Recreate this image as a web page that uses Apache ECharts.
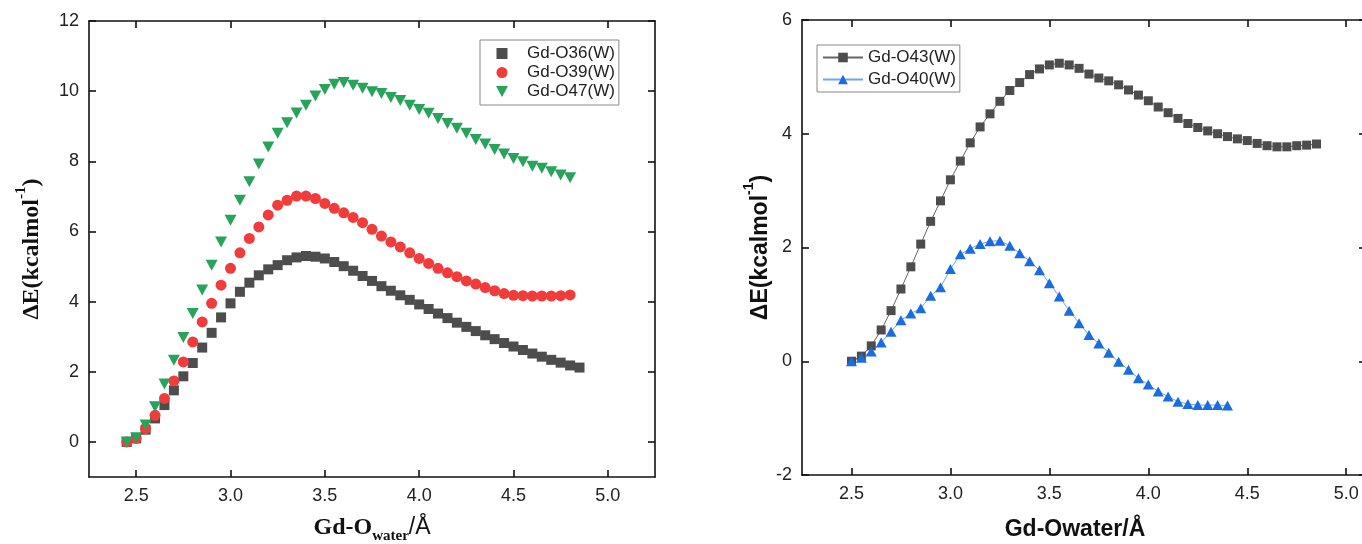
<!DOCTYPE html>
<html>
<head>
<meta charset="utf-8">
<script src="https://cdn.jsdelivr.net/npm/echarts@6/dist/echarts.min.js"></script>
<style>
html,body{margin:0;padding:0;background:#fff}
#main{width:1362px;height:544px}
</style>
</head>
<body>
<div id="main"></div>
<script>
// 左图：Gd-O 距离 (Å)
var distL = [2.45, 2.50, 2.55, 2.60, 2.65, 2.70, 2.75, 2.80, 2.85, 2.90, 2.95, 3.00, 3.05, 3.10, 3.15, 3.20, 3.25,
             3.30, 3.35, 3.40, 3.45, 3.50, 3.55, 3.60, 3.65, 3.70, 3.75, 3.80, 3.85, 3.90, 3.95, 4.00, 4.05,
             4.10, 4.15, 4.20, 4.25, 4.30, 4.35, 4.40, 4.45, 4.50, 4.55, 4.60, 4.65, 4.70, 4.75, 4.80, 4.85];
var e36 = [0, 0.10, 0.35, 0.67, 1.05, 1.47, 1.87, 2.25, 2.69, 3.11, 3.55, 3.95, 4.28, 4.54, 4.75, 4.92, 5.04,
           5.18, 5.26, 5.30, 5.28, 5.23, 5.13, 5.01, 4.88, 4.73, 4.59, 4.44, 4.31, 4.18, 4.05, 3.92, 3.79,
           3.66, 3.53, 3.40, 3.28, 3.16, 3.04, 2.93, 2.82, 2.72, 2.62, 2.52, 2.43, 2.34, 2.26, 2.18, 2.12];
var e39 = [0, 0.10, 0.38, 0.76, 1.24, 1.74, 2.28, 2.85, 3.42, 3.95, 4.47, 4.95, 5.39, 5.80, 6.13, 6.47, 6.75,
           6.89, 7.01, 7.01, 6.94, 6.80, 6.66, 6.53, 6.40, 6.25, 6.06, 5.87, 5.70, 5.56, 5.39, 5.23, 5.09,
           4.95, 4.82, 4.71, 4.59, 4.50, 4.40, 4.31, 4.23, 4.18, 4.17, 4.16, 4.16, 4.16, 4.17, 4.19];
var e47 = [0, 0.12, 0.48, 1.00, 1.65, 2.33, 2.98, 3.66, 4.33, 5.04, 5.70, 6.32, 6.89, 7.42, 7.92, 8.41, 8.80,
           9.10, 9.38, 9.60, 9.86, 10.05, 10.20, 10.25, 10.17, 10.08, 9.98, 9.93, 9.82, 9.73, 9.60, 9.48, 9.37,
           9.22, 9.08, 8.94, 8.80, 8.62, 8.49, 8.34, 8.21, 8.08, 7.99, 7.86, 7.80, 7.70, 7.61, 7.53];

// 右图
var distR = [2.50, 2.55, 2.60, 2.65, 2.70, 2.75, 2.80, 2.85, 2.90, 2.95, 3.00, 3.05, 3.10, 3.15, 3.20, 3.25,
             3.30, 3.35, 3.40, 3.45, 3.50, 3.55, 3.60, 3.65, 3.70, 3.75, 3.80, 3.85, 3.90, 3.95, 4.00, 4.05,
             4.10, 4.15, 4.20, 4.25, 4.30, 4.35, 4.40, 4.45, 4.50, 4.55, 4.60, 4.65, 4.70, 4.75, 4.80, 4.85];
var e43 = [0, 0.09, 0.27, 0.55, 0.89, 1.27, 1.66, 2.06, 2.46, 2.82, 3.19, 3.52, 3.84, 4.12, 4.35, 4.57,
           4.76, 4.90, 5.04, 5.14, 5.21, 5.24, 5.21, 5.15, 5.05, 4.98, 4.93, 4.86, 4.77, 4.68, 4.58, 4.47,
           4.37, 4.27, 4.18, 4.11, 4.05, 4.00, 3.95, 3.91, 3.88, 3.83, 3.79, 3.77, 3.77, 3.79, 3.80, 3.82];
var e40 = [0, 0.06, 0.17, 0.33, 0.52, 0.72, 0.84, 0.93, 1.15, 1.30, 1.62, 1.88, 1.98, 2.06, 2.11, 2.12,
           2.03, 1.90, 1.76, 1.60, 1.37, 1.14, 0.89, 0.67, 0.46, 0.31, 0.15, -0.01, -0.15, -0.30, -0.41, -0.53,
           -0.62, -0.71, -0.75, -0.77, -0.77, -0.77, -0.78];

var xTicks = [2.5, 3.0, 3.5, 4.0, 4.5, 5.0];
var yTicksL = [0, 2, 4, 6, 8, 10, 12];
var yTicksR = [-2, 0, 2, 4, 6];

function pairs(xs, ys) {
    var out = [];
    for (var i = 0; i < ys.length; i++) out.push([xs[i], ys[i]]);
    return out;
}

var myChart = echarts.init(document.getElementById('main'));

var sans = 'Liberation Sans, Arial, sans-serif';
var serif = 'Liberation Serif, Times New Roman, serif';

function xAx(grid, min, max, pos, label, name, nameStyle, gap) {
    return {
        type: 'value', gridIndex: grid, min: min, max: max, position: pos,
        axisLine: {onZero: false, lineStyle: {color: '#111', width: 1.6}},
        axisTick: {inside: true, length: 7, customValues: xTicks, lineStyle: {color: '#111', width: 1.6}},
        axisLabel: {show: label, customValues: xTicks, margin: 10, fontSize: 18, color: '#222', fontFamily: sans,
                    formatter: function (v) { return v.toFixed(1); }},
        splitLine: {show: false},
        name: name || '', nameLocation: 'middle', nameGap: gap || 42, nameTextStyle: nameStyle || {}
    };
}
function yAx(grid, min, max, pos, ticks, label, name, nameStyle, gap) {
    return {
        type: 'value', gridIndex: grid, min: min, max: max, position: pos,
        axisLine: {onZero: false, lineStyle: {color: '#111', width: 1.6}},
        axisTick: {inside: true, length: 7, customValues: ticks, lineStyle: {color: '#111', width: 1.6}},
        axisLabel: {show: label, customValues: ticks, margin: 10, fontSize: 18, color: '#222', fontFamily: sans},
        splitLine: {show: false},
        name: name || '', nameLocation: 'middle', nameRotate: 90, nameGap: gap || 40, nameTextStyle: nameStyle || {}
    };
}

option = {
    backgroundColor: '#FFFFFF',
    animation: false,
    grid: [
        {left: 89, top: 21, width: 566, height: 456, outerBoundsMode: 'none'},
        {left: 802, top: 20, width: 564, height: 455, outerBoundsMode: 'none'}
    ],
    legend: [
        {
            orient: 'vertical', left: 480, top: 40, selectedMode: false,
            data: [
                {name: 'Gd-O36(W)', icon: 'path://M0,0H10V10H0Z'},
                {name: 'Gd-O39(W)', icon: 'circle'},
                {name: 'Gd-O47(W)', icon: 'path://M0,0H12L6,11Z'}
            ],
            borderColor: '#888', borderWidth: 1, padding: [5, 4, 5, 16],
            itemWidth: 40, itemHeight: 11, itemGap: 2,
            textStyle: {fontSize: 17, color: '#222', fontFamily: sans}
        },
        {
            orient: 'vertical', left: 817, top: 45, selectedMode: false,
            data: ['Gd-O43(W)', 'Gd-O40(W)'],
            borderColor: '#888', borderWidth: 1, padding: [4, 4, 4, 5],
            itemWidth: 40, itemHeight: 12, itemGap: 5,
            textStyle: {fontSize: 17, color: '#222', fontFamily: sans}
        }
    ],
    xAxis: [
        xAx(0, 2.25, 5.25, 'bottom', true, '{a|Gd-O}{b|water}{c|/Å}', {
            rich: {
                a: {fontSize: 24, fontWeight: 'bold', fontFamily: serif, color: '#111', lineHeight: 28, verticalAlign: 'top'},
                b: {fontSize: 15, fontWeight: 'bold', fontFamily: serif, color: '#111', verticalAlign: 'bottom'},
                c: {fontSize: 23, fontFamily: sans, color: '#111', lineHeight: 28, verticalAlign: 'top'}
            }
        }, 39),
        xAx(0, 2.25, 5.25, 'top', false),
        xAx(1, 2.25, 5.1, 'bottom', true, 'Gd-Owater/Å', {
            fontSize: 23, fontWeight: 'bold', fontFamily: sans, color: '#111', padding: [0, 18, 0, 0]
        }, 43),
        xAx(1, 2.25, 5.1, 'top', false)
    ],
    yAxis: [
        yAx(0, -1, 12, 'left', yTicksL, true, '{a|ΔE(kcalmol}{s|-1}{a|)}', {
            rich: {
                a: {fontSize: 24, fontWeight: 'bold', fontFamily: serif, color: '#111', lineHeight: 30, verticalAlign: 'bottom'},
                s: {fontSize: 15, fontWeight: 'bold', fontFamily: serif, color: '#111', verticalAlign: 'top'}
            }
        }, 45),
        yAx(0, -1, 12, 'right', yTicksL, false),
        yAx(1, -2, 6, 'left', yTicksR, true, '{a|ΔE(kcalmol}{s|-1}{a|)}', {
            rich: {
                a: {fontSize: 23, fontWeight: 'bold', fontFamily: sans, color: '#111', lineHeight: 30, verticalAlign: 'bottom'},
                s: {fontSize: 14, fontWeight: 'bold', fontFamily: sans, color: '#111', verticalAlign: 'top'}
            }
        }, 24),
        yAx(1, -2, 6, 'right', yTicksR, false)
    ],
    series: [
        {
            name: 'Gd-O36(W)', type: 'scatter', xAxisIndex: 0, yAxisIndex: 0,
            symbol: 'rect', symbolSize: 10, itemStyle: {color: '#4d4d4d', opacity: 1},
            data: pairs(distL, e36)
        },
        {
            name: 'Gd-O39(W)', type: 'scatter', xAxisIndex: 0, yAxisIndex: 0,
            symbol: 'circle', symbolSize: 11, itemStyle: {color: '#f23b3b', opacity: 1},
            data: pairs(distL, e39)
        },
        {
            name: 'Gd-O47(W)', type: 'scatter', xAxisIndex: 0, yAxisIndex: 0,
            symbol: 'triangle', symbolRotate: 180, symbolSize: [12, 11], itemStyle: {color: '#27a35c', opacity: 1},
            data: pairs(distL, e47)
        },
        {
            name: 'Gd-O43(W)', type: 'line', xAxisIndex: 2, yAxisIndex: 2,
            symbol: 'rect', symbolSize: 9, showSymbol: true,
            itemStyle: {color: '#4d4d4d'}, lineStyle: {color: '#666', width: 1},
            data: pairs(distR, e43)
        },
        {
            name: 'Gd-O40(W)', type: 'line', xAxisIndex: 2, yAxisIndex: 2,
            symbol: 'triangle', symbolSize: [11, 10], showSymbol: true,
            itemStyle: {color: '#1b6ce0'}, lineStyle: {color: '#6fa6ee', width: 1},
            data: pairs(distR, e40)
        }
    ]
};
myChart.setOption(option, true);
</script>
</body>
</html>
